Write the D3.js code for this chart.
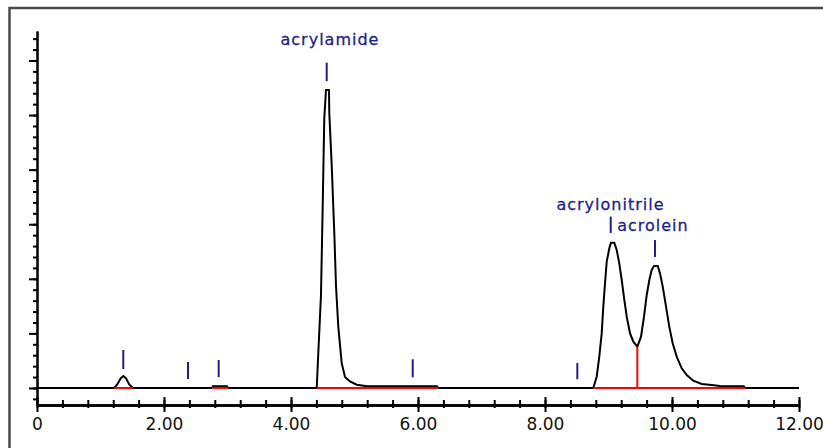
<!DOCTYPE html>
<html>
<head>
<meta charset="utf-8">
<script src="https://cdn.jsdelivr.net/npm/d3@7"></script>
<style>
  body { margin: 0; background: #fff; }
  svg { display: block; }
</style>
</head>
<body>
<div id="chart"></div>
<script>
// retention time (min) and detector signal (arbitrary units, 1 = one minor y tick)
const times = [
  0, 1.217, 1.26, 1.32, 1.36, 1.40, 1.45, 1.507,
  2.756, 2.77, 2.99, 3.008,
  4.405, 4.43, 4.472, 4.499, 4.524, 4.551, 4.598, 4.603, 4.641, 4.682, 4.709,
  4.745, 4.798, 4.85, 4.929, 5.035, 5.2, 6.30, 6.315,
  8.761, 8.814, 8.855, 8.893, 8.918, 8.945, 8.972, 9.013, 9.039, 9.091, 9.129,
  9.17, 9.208, 9.249, 9.287, 9.339, 9.391, 9.454, 9.512, 9.559, 9.602, 9.643,
  9.68, 9.717, 9.775, 9.811, 9.854, 9.906, 9.957, 10.011, 10.074, 10.153,
  10.232, 10.335, 10.468, 10.625, 10.756, 11.13, 11.15,
  12
]
const signal = [
  0, 0, 0.3, 0.9, 1.1, 0.9, 0.35, 0,
  0, 0.15, 0.15, 0,
  0, 3.2, 8.5, 16.6, 24.7, 27.3, 27.3, 25.2, 20.4, 14.2, 9.3,
  5.6, 2.3, 1.0, 0.6, 0.3, 0.15, 0.15, 0,
  0, 1.03, 2.87, 5.0, 7.45, 9.59, 11.57, 12.79, 13.31, 13.31, 12.64,
  11.42, 9.89, 8.06, 6.53, 5.0, 4.24, 3.78, 4.7, 6.53, 8.52, 9.89,
  10.81, 11.17, 11.17, 10.5, 9.28, 7.45, 5.62, 4.09, 2.87, 1.8,
  1.19, 0.67, 0.37, 0.27, 0.18, 0.15, 0,
  0
]

// integration baselines (start, end) and the valley drop line
const baselineStart = [1.217, 2.756, 4.405, 8.761]
const baselineEnd = [1.507, 3.008, 6.315, 11.15]
const dropTime = 9.454
const dropLevel = 3.78

// peak markers
const markerTimes = [1.359, 2.378, 2.861, 4.562, 5.917, 8.509, 9.035, 9.732]
const markerLow = [1.74, 0.82, 1.0, 28.1, 0.98, 0.8, 14.2, 12.0]
const markerHigh = [3.48, 2.38, 2.56, 29.8, 2.63, 2.29, 15.7, 13.55]

// peak names
const peakNames = ['acrylamide', 'acrylonitrile', 'acrolein']
const labelTimes = [4.614, 9.031, 9.70]
const labelLevels = [31.4, 16.3, 14.4]

const xTicks = [0, 2, 4, 6, 8, 10, 12]

const width = 823
const height = 448

const svg = d3
  .select('#chart')
  .append('svg')
  .attr('width', width)
  .attr('height', height)

// frame
svg
  .append('path')
  .attr('d', 'M9.5,' + (height + 5) + 'V8H' + (width + 5))
  .attr('fill', 'none')
  .attr('stroke', '#4a4a4a')
  .attr('stroke-width', 2.5)

const x = d3.scaleLinear().domain([0, 12]).range([37, 799])
const y = d3.scaleLinear().domain([-1.56, 32.7]).range([405, 31])

const navy = '#1f1f86'

// y axis: minor and major ticks
svg
  .append('g')
  .attr('class', 'y-minor')
  .attr('transform', 'translate(' + x(0) + ',0)')
  .call(
    d3.axisLeft(y)
      .tickValues(d3.range(-1, 33))
      .tickSize(4)
      .tickSizeOuter(0)
      .tickFormat('')
  )

svg
  .append('g')
  .attr('class', 'y-major')
  .attr('transform', 'translate(' + x(0) + ',0)')
  .call(
    d3.axisLeft(y)
      .tickValues(d3.range(0, 31, 5))
      .tickSize(8)
      .tickSizeOuter(0)
      .tickFormat('')
  )

// x axis: ticks cross the axis line
const minorX = d3.range(0, 12.01, 0.4)

svg
  .append('g')
  .attr('class', 'x-minor-up')
  .attr('transform', 'translate(0,' + y(-1.56) + ')')
  .call(d3.axisTop(x).tickValues(minorX).tickSize(5).tickSizeOuter(0).tickFormat(''))

svg
  .append('g')
  .attr('class', 'x-minor-down')
  .attr('transform', 'translate(0,' + y(-1.56) + ')')
  .call(d3.axisBottom(x).tickValues(minorX).tickSize(3).tickSizeOuter(0).tickFormat(''))

svg
  .append('g')
  .attr('class', 'x-major-up')
  .attr('transform', 'translate(0,' + y(-1.56) + ')')
  .call(d3.axisTop(x).tickValues(xTicks).tickSize(8).tickSizeOuter(0).tickFormat(''))

svg
  .append('g')
  .attr('class', 'x-major')
  .attr('transform', 'translate(0,' + y(-1.56) + ')')
  .call(
    d3.axisBottom(x)
      .tickValues(xTicks)
      .tickSize(7)
      .tickSizeOuter(0)
      .tickPadding(6)
      .tickFormat(d => (d === 0 ? '0' : d3.format('.2f')(d)))
  )

svg.selectAll('.domain, .tick line')
  .attr('stroke', '#000')
  .attr('stroke-width', 2)

svg.selectAll('.x-major text')
  .attr('font-family', 'DejaVu Sans, sans-serif')
  .attr('font-size', 17)
  .attr('fill', '#111')

// chromatogram trace
const points = times.map((t, i) => [t, signal[i]])

const line = d3
  .line()
  .x(d => x(d[0]))
  .y(d => y(d[1]))

svg
  .append('path')
  .datum(points)
  .attr('d', line)
  .attr('fill', 'none')
  .attr('stroke', '#000')
  .attr('stroke-width', 2)
  .attr('stroke-linejoin', 'miter')

// red integration baselines
svg
  .selectAll('.baseline')
  .data(baselineStart)
  .enter()
  .append('line')
  .attr('class', 'baseline')
  .attr('x1', d => x(d))
  .attr('x2', (d, i) => x(baselineEnd[i]))
  .attr('y1', y(0))
  .attr('y2', y(0))
  .attr('stroke', '#ff0000')
  .attr('stroke-width', 2)

svg
  .append('line')
  .attr('x1', x(dropTime))
  .attr('x2', x(dropTime))
  .attr('y1', y(0))
  .attr('y2', y(dropLevel))
  .attr('stroke', '#ff0000')
  .attr('stroke-width', 2)

// blue peak markers
svg
  .selectAll('.marker')
  .data(markerTimes)
  .enter()
  .append('line')
  .attr('class', 'marker')
  .attr('x1', d => x(d))
  .attr('x2', d => x(d))
  .attr('y1', (d, i) => y(markerLow[i]))
  .attr('y2', (d, i) => y(markerHigh[i]))
  .attr('stroke', navy)
  .attr('stroke-width', 2)

// peak names
svg
  .selectAll('.peak-name')
  .data(peakNames)
  .enter()
  .append('text')
  .attr('class', 'peak-name')
  .attr('x', (d, i) => x(labelTimes[i]))
  .attr('y', (d, i) => y(labelLevels[i]))
  .attr('text-anchor', 'middle')
  .attr('font-family', 'DejaVu Sans, sans-serif')
  .attr('font-size', 16)
  .attr('letter-spacing', 1)
  .attr('fill', navy)
  .attr('stroke', navy)
  .attr('stroke-width', 0.3)
  .text(d => d)
</script>
</body>
</html>
